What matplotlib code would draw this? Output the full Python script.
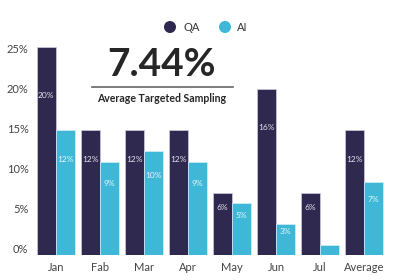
import matplotlib.pyplot as plt
import numpy as np

plt.rcParams['font.family'] = ['Lato', 'DejaVu Sans']

months = ['Jan', 'Fab', 'Mar', 'Apr', 'May', 'Jun', 'Jul', 'Average']
qa_vals = [26, 15.6, 15.6, 15.6, 7.8, 20.8, 7.8, 15.6]
ai_vals = [15.6, 11.7, 13, 11.7, 6.5, 3.9, 1.3, 9.1]
qa_labels = [20, 12, 12, 12, 6, 16, 6, 12]
ai_labels = [12, 9, 10, 9, 5, 3, None, 7]
yticks = [0, 5, 10, 15, 20, 25]
headline = '7.44%'
subtitle = 'Average Targeted Sampling'

QA_COLOR = '#30294f'
AI_COLOR = '#3fb8d7'

fig = plt.figure(figsize=(4, 2.8), dpi=100)
ax = fig.add_axes([0.085, 0.089, 0.88, 0.771])

x = np.arange(len(months))
w = 0.43
ax.bar(x - 0.22, qa_vals, w, color=QA_COLOR, edgecolor='#cfcbe0', linewidth=0.5)
ax.bar(x + 0.22, ai_vals, w, color=AI_COLOR, edgecolor='#d6eef6', linewidth=0.5)

# value labels inside the bars
for i in range(len(months)):
    ax.text(x[i] - 0.22, qa_labels[i], f'{qa_labels[i]}%', ha='center', va='center',
            fontsize=6, color='#e4e1ee')
    if ai_labels[i] is not None:
        ax.text(x[i] + 0.22, ai_labels[i], f'{ai_labels[i]}%', ha='center', va='center',
                fontsize=6, color='#e6f6fb')

ax.set_xlim(-0.5, 7.5)
ax.set_ylim(0, 27)
ax.set_xticks(x)
ax.set_xticklabels(months, fontsize=8, color='#444444')
ax.set_yticks(yticks)
ax.set_yticklabels([f'{t}%' for t in yticks], fontsize=8, color='#444444', va='bottom')
ax.tick_params(length=0, pad=4)
ax.tick_params(axis='x', pad=5)
for s in ax.spines.values():
    s.set_visible(False)

# headline block
fig.text(0.403, 0.77, headline, ha='center', va='center', fontsize=28,
         fontweight='bold', color='#262626')
fig.add_artist(plt.Line2D([0.23, 0.583], [0.69, 0.69], color='#666666', lw=1.2))
fig.text(0.405, 0.65, subtitle, ha='center', va='center', fontsize=7.6,
         fontweight='bold', color='#262626')

# legend
lax = fig.add_axes([0, 0, 1, 1], facecolor='none')
lax.set_xlim(0, 400)
lax.set_ylim(280, 0)
lax.axis('off')
lax.scatter([170, 225], [27, 27], s=75, c=[QA_COLOR, AI_COLOR], linewidths=0)
lax.text(183, 27.5, 'QA', va='center', fontsize=8, color='#333333')
lax.text(237, 27.5, 'AI', va='center', fontsize=8, color='#333333')

fig.savefig('out.png', dpi=100)
